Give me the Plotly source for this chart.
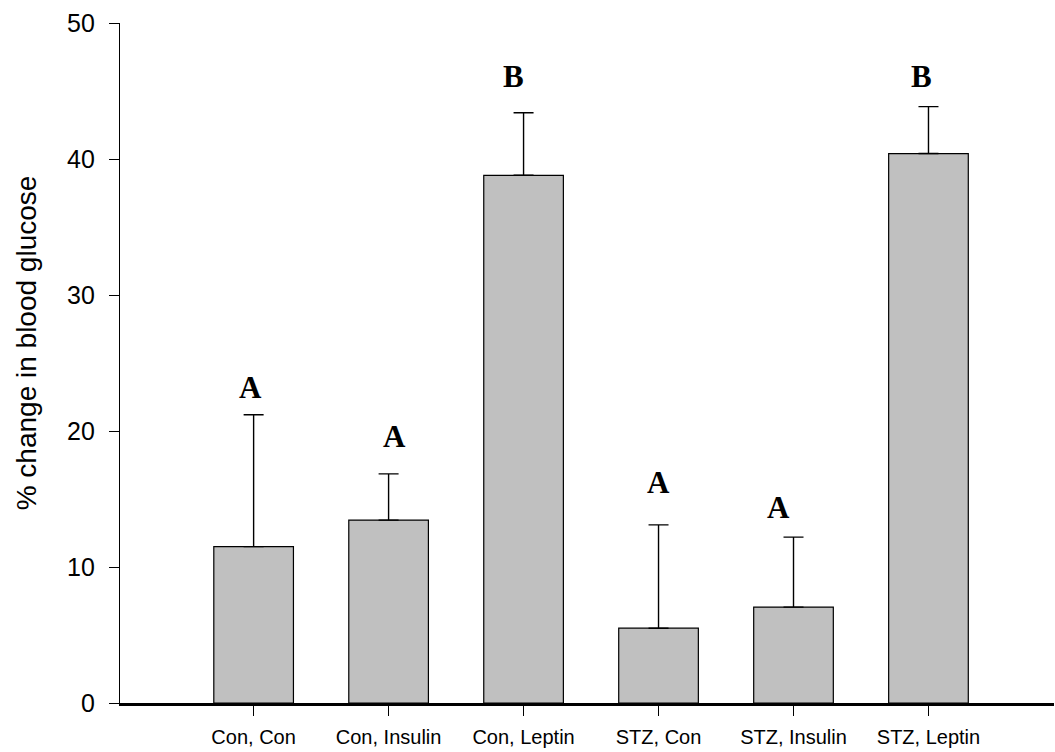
import plotly.graph_objects as go

# Group means and upper standard errors (% change in blood glucose)
groups = ["Con, Con", "Con, Insulin", "Con, Leptin", "STZ, Con", "STZ, Insulin", "STZ, Leptin"]
means = [11.5, 13.45, 38.8, 5.5, 7.05, 40.4]
errors = [9.7, 3.4, 4.6, 7.6, 5.15, 3.45]
sig_letters = ["A", "A", "B", "A", "A", "B"]

# Placement of significance letters (data units)
letter_y = [23.2, 19.6, 46.1, 16.2, 14.4, 46.1]
letter_dx = [-0.02, 0.045, -0.075, 0.0, -0.11, -0.05]

idx = list(range(len(groups)))

fig = go.Figure()
fig.add_trace(go.Bar(
    x=idx, y=means, width=0.59,
    marker=dict(color="#c0c0c0", line=dict(color="black", width=1.2)),
    error_y=dict(type="data", array=errors, arrayminus=[0] * len(errors),
                 symmetric=False, color="black", thickness=1.4, width=10),
    showlegend=False,
))

for i, (lab, ly, dx) in enumerate(zip(sig_letters, letter_y, letter_dx)):
    fig.add_annotation(x=i + dx, y=ly, text=f"<b>{lab}</b>", showarrow=False,
                       xanchor="center", yanchor="middle",
                       font=dict(family="Liberation Serif", size=31, color="black"))

# Y-axis title, placed slightly above the plot's vertical centre
fig.add_annotation(xref="paper", yref="paper", x=-0.1006, y=0.529,
                   text="% change in blood glucose", textangle=-90, showarrow=False,
                   xanchor="center", yanchor="middle",
                   font=dict(family="Liberation Sans, Arial", size=28, color="black"))

fig.update_layout(
    width=1055, height=752,
    margin=dict(l=120, r=1, t=23, b=49),
    paper_bgcolor="white", plot_bgcolor="white",
    font=dict(family="Liberation Sans, Arial", color="black"),
    xaxis=dict(range=[-0.99, 5.93], tickmode="array", tickvals=idx, ticktext=groups,
               showline=True, linecolor="black", linewidth=2.5, ticks="outside",
               ticklen=10, tickwidth=1.3, tickcolor="black", showgrid=False,
               zeroline=False, tickfont=dict(size=20), ticklabelstandoff=4),
    yaxis=dict(range=[0, 50], tickvals=[0, 10, 20, 30, 40, 50],
               showline=True, linecolor="black", linewidth=1.4, ticks="outside",
               ticklen=10, tickwidth=1.4, tickcolor="black", showgrid=False,
               zeroline=False, tickfont=dict(size=25), ticklabelstandoff=9),
)

fig.write_html("out.html")
